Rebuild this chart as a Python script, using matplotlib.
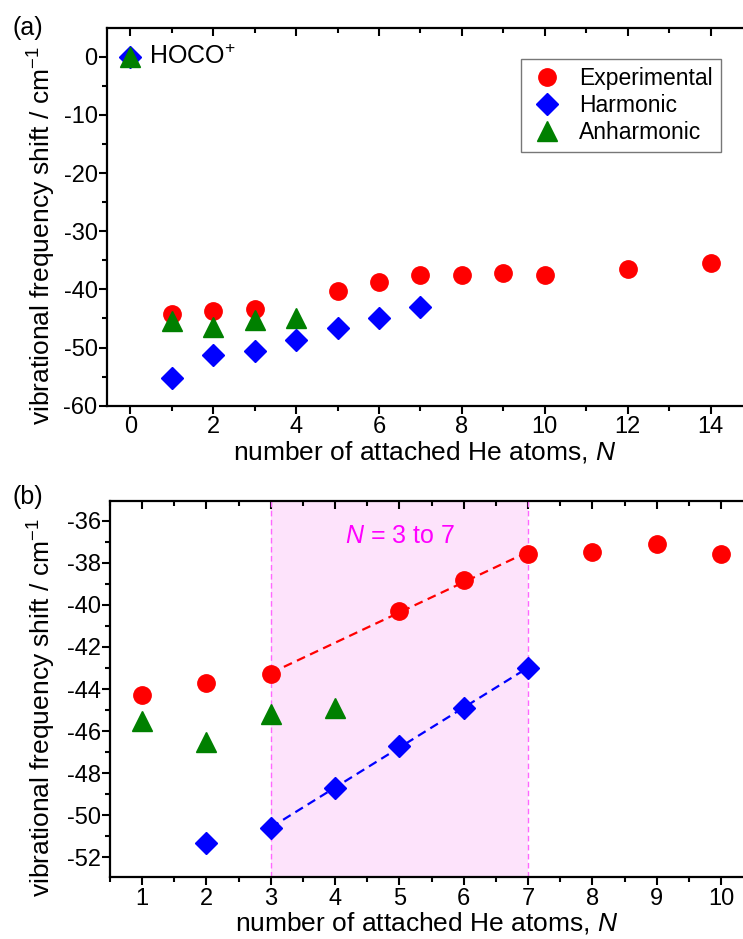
import numpy as np
import matplotlib
matplotlib.use("Agg")
import matplotlib.pyplot as plt
from matplotlib.ticker import MultipleLocator

plt.rcParams['font.family'] = ['Liberation Sans', 'DejaVu Sans']
plt.rcParams['axes.unicode_minus'] = False
plt.rcParams['mathtext.fontset'] = 'custom'
plt.rcParams['mathtext.rm'] = 'Liberation Sans'
plt.rcParams['mathtext.it'] = 'Liberation Sans:italic'

# ---- data ----
exp_N = [1, 2, 3, 5, 6, 7, 8, 9, 10, 12, 14]
exp_shift = [-44.3, -43.7, -43.3, -40.3, -38.8, -37.6, -37.5, -37.1, -37.6, -36.5, -35.5]
harm_N = [0, 1, 2, 3, 4, 5, 6, 7]
harm_shift = [0.0, -55.3, -51.3, -50.6, -48.7, -46.7, -44.9, -43.0]
anh_N = [0, 1, 2, 3, 4]
anh_shift = [0.0, -45.5, -46.5, -45.2, -44.9]
fit_range = (3, 7)

RED = '#ff0000'
BLUE = '#0000ff'
GREEN = '#008000'
MAG = '#ff00ff'

W, H = 743, 939
fig = plt.figure(figsize=(W / 100, H / 100), dpi=100)

def style_axes(ax):
    for s in ['left', 'bottom', 'top']:
        ax.spines[s].set_linewidth(1.6)
    ax.spines['right'].set_visible(False)
    ax.tick_params(which='both', direction='out', top=False, right=False, labelsize=17, width=1.5)
    ax.tick_params(which='major', length=5.5)
    ax.tick_params(which='minor', length=3.5)
    ax.tick_params(axis='y', which='major', pad=1)
    ax.tick_params(axis='x', which='major', pad=2)
    sec = ax.secondary_xaxis('top')
    sec.spines['top'].set_visible(False)
    sec.tick_params(which='both', direction='in', labeltop=False, width=1.5)
    sec.tick_params(which='major', length=5.5)
    sec.tick_params(which='minor', length=3.5)
    return sec

ms_o, ms_d, ms_t = 12.5, 11.5, 14

# ---- panel (a) ----
ax1 = fig.add_axes([106.6 / W, 1 - 405.7 / H, (W - 106.6) / W, (405.7 - 28.3) / H])
ax1.plot(harm_N, harm_shift, ls='none', marker='D', ms=ms_d, color=BLUE, mec=BLUE, label='Harmonic', zorder=3)
ax1.plot(anh_N, anh_shift, ls='none', marker='^', ms=ms_t, color=GREEN, mec=GREEN, label='Anharmonic', zorder=4)
ax1.plot(exp_N, exp_shift, ls='none', marker='o', ms=ms_o, color=RED, mec=RED, label='Experimental', zorder=2)
ax1.set_xlim(-0.57, 14.78)
ax1.set_ylim(-60, 4.9)
ax1.xaxis.set_major_locator(MultipleLocator(2))
ax1.xaxis.set_minor_locator(MultipleLocator(1))
ax1.yaxis.set_major_locator(MultipleLocator(10))
ax1.yaxis.set_minor_locator(MultipleLocator(5))
sec1 = style_axes(ax1)
sec1.xaxis.set_major_locator(MultipleLocator(2))
sec1.xaxis.set_minor_locator(MultipleLocator(1))
ax1.set_xlabel('number of attached He atoms, $\\mathit{N}$', fontsize=19, labelpad=0.5)
ax1.set_ylabel('vibrational frequency shift / cm$^{-1}$', fontsize=19)
ax1.yaxis.set_label_coords((58 - 106.6) / (W - 106.6), 0.45)
ax1.text(0.45, 0, 'HOCO$^{+}$', fontsize=18, va='center', ha='left')
h, l = ax1.get_legend_handles_labels()
order = [2, 0, 1]
leg = ax1.legend([h[i] for i in order], [l[i] for i in order], loc='upper right',
                 bbox_to_anchor=((721 - 106.6) / (W - 106.6), (405.7 - 59) / (405.7 - 28.3)),
                 borderaxespad=0, fontsize=16.5, frameon=True, fancybox=False, edgecolor='#555555',
                 handletextpad=0.6, borderpad=0.35, labelspacing=0.18, handlelength=1.6)
leg.get_frame().set_linewidth(1.0)
fig.text(12 / W, 1 - 28 / H, '(a)', fontsize=18, va='center', ha='left')

# ---- panel (b) ----
ax2 = fig.add_axes([110 / W, 1 - 877.3 / H, (W - 110) / W, (877.3 - 500.7) / H])
ax2.axvspan(fit_range[0], fit_range[1], color='#fde3fb', lw=0, zorder=0)
for xv in fit_range:
    ax2.axvline(xv, color='#ff66ff', lw=1.0, ls=(0, (4, 2.5)), zorder=1)
ax2.plot(exp_N, exp_shift, ls='none', marker='o', ms=ms_o, color=RED, mec=RED, zorder=3)
ax2.plot(harm_N, harm_shift, ls='none', marker='D', ms=ms_d, color=BLUE, mec=BLUE, zorder=3)
ax2.plot(anh_N, anh_shift, ls='none', marker='^', ms=ms_t, color=GREEN, mec=GREEN, zorder=3)

en = np.array(exp_N); es = np.array(exp_shift)
m = (en >= fit_range[0]) & (en <= fit_range[1])
pe = np.polyfit(en[m], es[m], 1)
hn = np.array(harm_N); hs = np.array(harm_shift)
mh = (hn >= fit_range[0]) & (hn <= fit_range[1])
ph = np.polyfit(hn[mh], hs[mh], 1)
xf = np.array(fit_range, dtype=float)
ax2.plot(xf, np.polyval(pe, xf), color=RED, ls=(0, (4, 2.5)), lw=1.6, zorder=2)
ax2.plot(xf, np.polyval(ph, xf), color=BLUE, ls=(0, (4, 2.5)), lw=1.6, zorder=2)

ax2.set_xlim(0.5, 10.34)
ax2.set_ylim(-52.95, -35.05)
ax2.xaxis.set_major_locator(MultipleLocator(1))
ax2.xaxis.set_minor_locator(MultipleLocator(0.5))
ax2.yaxis.set_major_locator(MultipleLocator(2))
ax2.yaxis.set_minor_locator(MultipleLocator(1))
sec2 = style_axes(ax2)
sec2.xaxis.set_major_locator(MultipleLocator(1))
sec2.xaxis.set_minor_locator(MultipleLocator(0.5))
ax2.set_xlabel('number of attached He atoms, $\\mathit{N}$', fontsize=19, labelpad=0.5)
ax2.set_ylabel('vibrational frequency shift / cm$^{-1}$', fontsize=19)
ax2.yaxis.set_label_coords((58 - 110) / (W - 110), 0.45)
ax2.text(5, -36.75, '$\\mathit{N}$ = 3 to 7', fontsize=18, color=MAG, ha='center', va='center')
fig.text(12 / W, 1 - 497 / H, '(b)', fontsize=18, va='center', ha='left')

fig.savefig('out.png', dpi=100)
